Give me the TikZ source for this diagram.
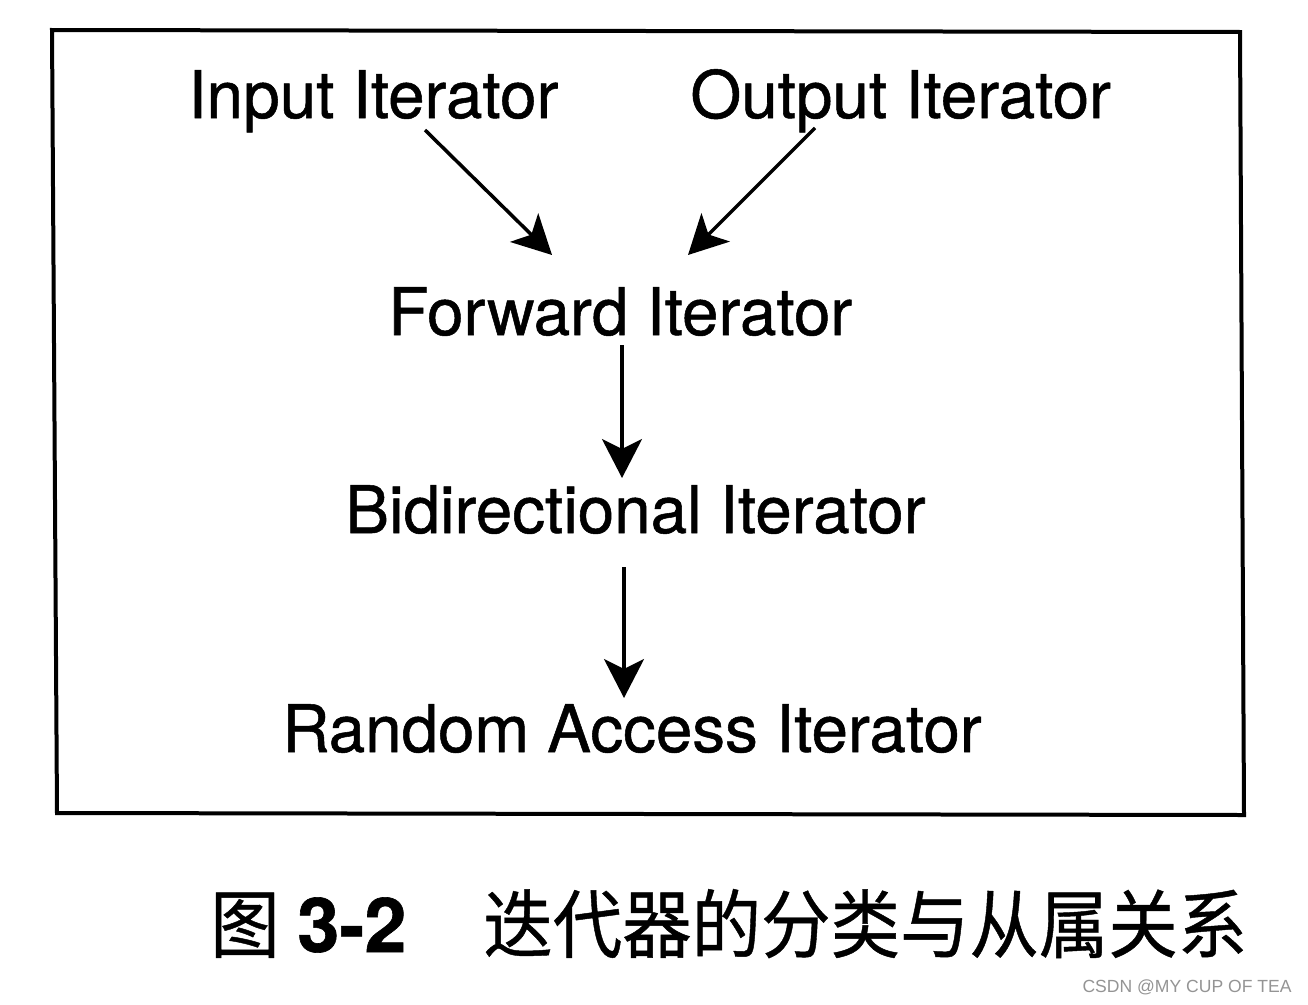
\documentclass[tikz,border=0pt]{standalone}
\usepackage{fontspec}
\setmainfont{TeX Gyre Heros}
\newfontfamily\heavy[FakeBold=0.8]{TeX Gyre Heros}
\newfontfamily\cjkfont[FakeBold=0.6]{Noto Sans CJK SC}
\newfontfamily\wmfont{Liberation Sans}
\usetikzlibrary{arrows.meta}
\begin{document}
\begin{tikzpicture}[x=0.02cm,y=-0.02cm,
  lbl/.style={inner sep=0pt, anchor=base west, font=\heavy\fontsize{37.3}{40}\selectfont},
  arr/.style={line width=0.07cm, -{Stealth[length=0.78cm,width=0.8cm,inset=0.2cm]}},
  frame/.style={line width=0.08cm, line join=miter}]
\useasboundingbox[fill=white] (0,0) rectangle (1308,1004);
% frame
\draw[frame] (52,30) -- (1240,32) -- (1244,815) -- (57,813) -- cycle;
% labels
\node[lbl] (in)  at (188,118) {Input Iterator};
\node[lbl] (out) at (690,118) {Output Iterator};
\node[lbl] (fwd) at (388,335) {Forward Iterator};
\node[lbl] (bid) at (345,533) {Bidirectional Iterator};
\node[lbl] (ran) at (282,752) {Random Access Iterator};
% connector ends
\coordinate (a1s) at (425,130);
\coordinate (a1e) at (552,255);
\coordinate (a2s) at (815,128);
\coordinate (a2e) at (688,255);
\coordinate (a3s) at (622,345);
\coordinate (a3e) at (622,478);
\coordinate (a4s) at (624,567);
\coordinate (a4e) at (624,698);
\draw[arr] (a1s) -- (a1e);
\draw[arr] (a2s) -- (a2e);
\draw[arr] (a3s) -- (a3e);
\draw[arr] (a4s) -- (a4e);
% caption
\node[inner sep=0pt, anchor=base west, font=\cjkfont\fontsize{42.5}{46}\selectfont] (capA) at (210,952) {\scalebox{0.93}[1]{图}};
\node[inner sep=0pt, anchor=base west, font=\heavy\fontsize{43}{46}\selectfont\bfseries] (capB) at (297,952) {3-2};
\node[inner sep=0pt, anchor=base west, font=\cjkfont\fontsize{42.5}{46}\selectfont] (capC) at (483,952) {\scalebox{0.93}[1]{迭代器的分类与从属关系}};
% watermark
\node[inner sep=0pt, anchor=base east, text=black!42, font=\wmfont\fontsize{10}{12}\selectfont] (wm) at (1292,992) {CSDN @MY CUP OF TEA};
\end{tikzpicture}
\end{document}
